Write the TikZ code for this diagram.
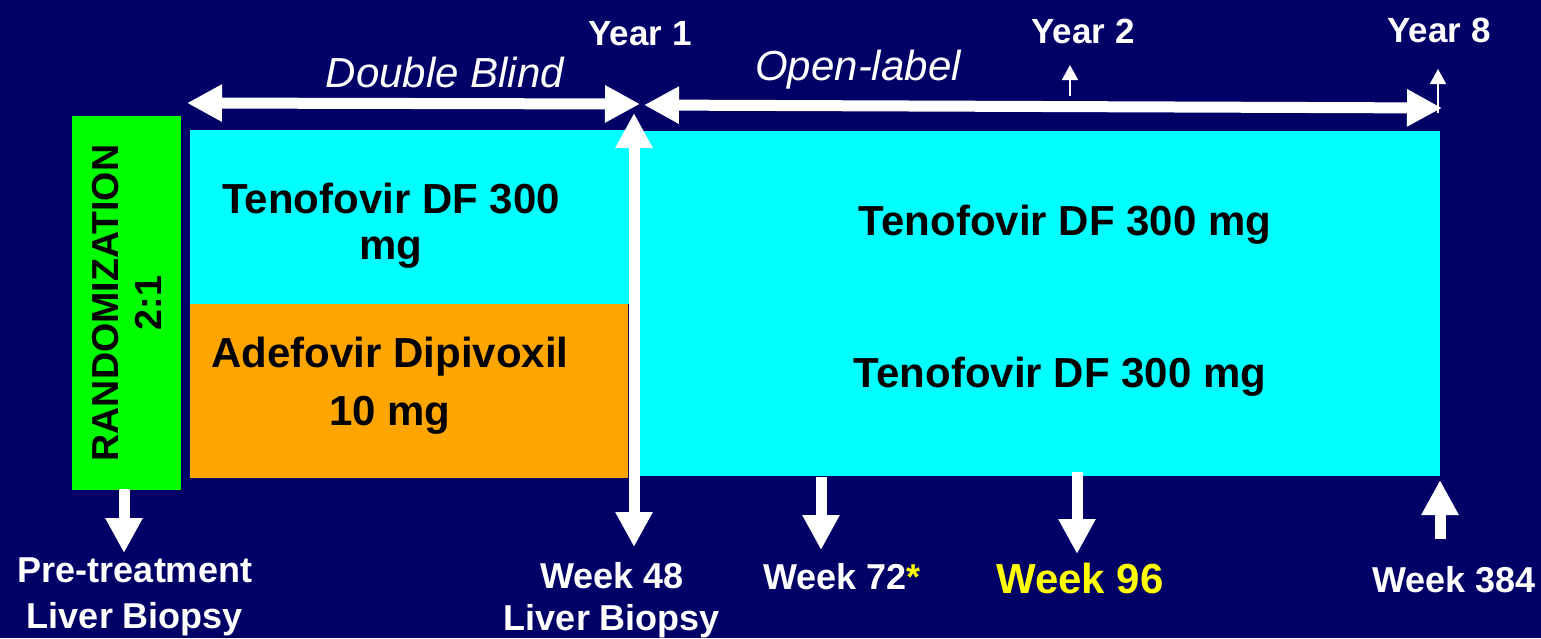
\documentclass[tikz,border=0pt]{standalone}
\usepackage{fontspec}
\setmainfont{Liberation Sans}
\usetikzlibrary{arrows.meta}
\definecolor{bg}{RGB}{0,0,102}
\definecolor{cy}{RGB}{0,255,255}
\definecolor{org}{RGB}{255,165,0}
\definecolor{grn}{RGB}{0,255,0}
\definecolor{ylw}{RGB}{255,255,0}
\begin{document}
\begin{tikzpicture}[x=0.5pt,y=-0.5pt,
  box/.style={inner sep=0pt, outer sep=0pt, draw=none},
  celltext/.style={anchor=base, align=center, text=black, inner sep=0pt,
    font=\fontsize{21}{23}\selectfont\bfseries},
  yeartext/.style={anchor=base, text=white, inner sep=0pt,
    font=\fontsize{17.5}{21}\selectfont\bfseries},
  phasetext/.style={anchor=base, text=white, inner sep=0pt,
    font=\fontsize{21}{25}\selectfont\itshape},
  weektext/.style={anchor=base, align=center, text=white, inner sep=0pt,
    font=\fontsize{18}{22}\selectfont\bfseries},
  fat/.style={draw=white, line width=5.5pt,
    >={Triangle[length=17.5pt,width=17.5pt]}},
  thin/.style={draw=white, line width=0.75pt,
    >={Triangle[length=7.5pt,width=8pt]}}
]
\useasboundingbox[fill=bg] (0,0) rectangle (1541,638);

% boxes
\node[box, fill=cy, minimum width=222pt, minimum height=86.75pt] (tl) at (412,216.75) {};
\node[box, fill=org, minimum width=219pt, minimum height=87pt] (adv) at (409,391) {};
\node[box, fill=cy, minimum width=403pt, minimum height=172.5pt] (ol) at (1037,303.5) {};
\node[box, fill=grn, rotate=90, minimum width=187pt, minimum height=54.5pt,
  align=center, font=\fontsize{18.8}{21.5}\selectfont\bfseries]
  (rand) at (126.5,303) {RANDOMIZATION\\2:1};

% cell texts (base anchor = baseline of last line)
\node[celltext] (t1) at (391,259) {Tenofovir DF 300\\mg};
\node[celltext] (a1) at (390,425) {Adefovir Dipivoxil\\[6pt]10 mg};
\node[celltext] (t2) at (1065,235) {Tenofovir DF 300 mg};
\node[celltext] (t3) at (1060,387) {Tenofovir DF 300 mg};

% top labels
\node[yeartext] (y1) at (640,45) {Year 1};
\node[yeartext] (y2) at (1083,43) {Year 2};
\node[yeartext] (y8) at (1439,42) {Year 8};
\node[phasetext] (db) at (445,87) {Double Blind};
\node[phasetext] (opl) at (858,80) {Open-label};

% bottom labels
\node[weektext] (pre) at (135,628) {Pre-treatment\\[1pt]Liver Biopsy};
\node[weektext] (w48) at (612,630) {Week 48\\[-1pt]Liver Biopsy};
\node[weektext] (w72) at (842,589) {Week 72{\color{ylw}*}};
\node[weektext, text=ylw, font=\fontsize{21}{25}\selectfont\bfseries] (w96) at (1080,593) {Week 96};
\node[weektext] (w384) at (1454,592) {Week 384};

% arrow end points
\coordinate (dbL) at (187,103);
\coordinate (dbR) at (640,104);
\coordinate (olL) at (644,105);
\coordinate (olR) at (1442,108);
\coordinate (vT) at (634,113);
\coordinate (vB) at (634,547);
\coordinate (y2s) at (1070,96);
\coordinate (y2e) at (1070,65);
\coordinate (y8s) at (1438,113);
\coordinate (y8e) at (1438,69);
\coordinate (pres) at (124,489);
\coordinate (pree) at (124,553);
\coordinate (w72s) at (821,477);
\coordinate (w72e) at (821,550);
\coordinate (w96s) at (1077,472);
\coordinate (w96e) at (1077,554);
\coordinate (w384s) at (1440,539);
\coordinate (w384e) at (1440,480);

% arrows
\draw[fat,<->] (dbL) -- (dbR);
\draw[fat,<->] (olL) -- (olR);
\draw[fat,<->] (vT) -- (vB);
\draw[thin,->] (y2s) -- (y2e);
\draw[thin,->] (y8s) -- (y8e);
\draw[fat,->] (pres) -- (pree);
\draw[fat,->] (w72s) -- (w72e);
\draw[fat,->] (w96s) -- (w96e);
\draw[fat,->] (w384s) -- (w384e);
\end{tikzpicture}
\end{document}
